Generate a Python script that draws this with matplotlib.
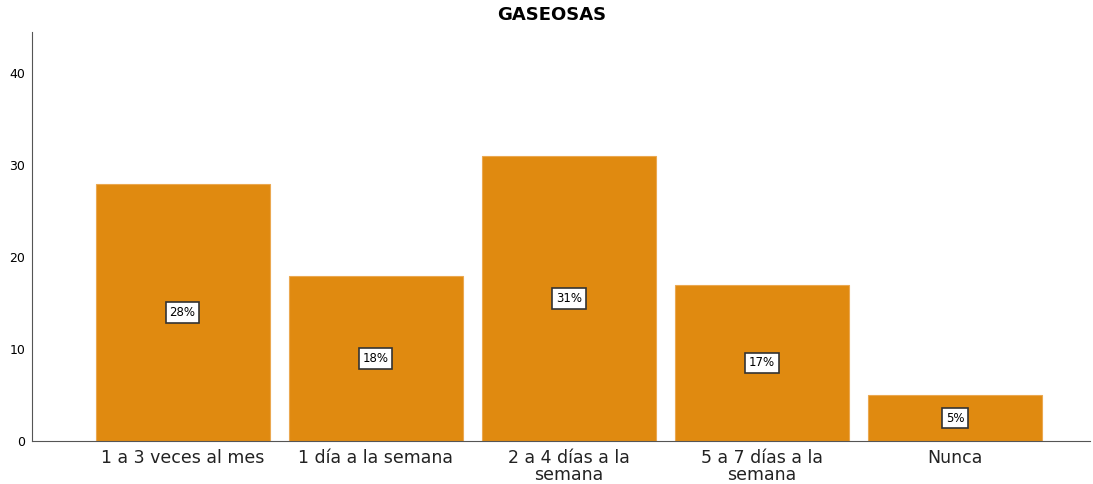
import matplotlib
matplotlib.use("Agg")
import matplotlib.pyplot as plt

categorias = ["1 a 3 veces al mes", "1 día a la semana", "2 a 4 días a la\nsemana",
              "5 a 7 días a la\nsemana", "Nunca"]
valores = [28, 18, 31, 17, 5]
etiquetas = ["28%", "18%", "31%", "17%", "5%"]
yticks = [0, 10, 20, 30, 40]

plt.rcParams['font.family'] = ['DejaVu Sans']

fig = plt.figure(figsize=(10.93, 4.84), dpi=100)
ax = fig.add_axes([0.0293, 0.0888, 0.968, 0.845])

x = list(range(len(categorias)))
ax.bar(x, valores, width=0.9, color="#E08A10", edgecolor="#EBA850", linewidth=0.8)

# etiquetas en el centro de cada barra
for i, v in enumerate(valores):
    ax.text(i, v / 2, etiquetas[i], ha="center", va="center", fontsize=8.5,
            bbox=dict(boxstyle="square,pad=0.32", fc="white", ec="#333333", lw=1.2))

ax.set_xlim(-0.78, 4.70)
ax.set_ylim(0, 44.5)
ax.set_xticks(x)
ax.set_xticklabels(categorias, fontsize=12.5, color="#222222", linespacing=0.88)
ax.set_yticks(yticks)
ax.set_yticklabels([str(t) for t in yticks], fontsize=9)
ax.tick_params(axis="both", length=0)
ax.tick_params(axis="y", pad=5)
ax.tick_params(axis="x", pad=6)

for s in ["top", "right"]:
    ax.spines[s].set_visible(False)
ax.spines["left"].set_color("#555555")
ax.spines["bottom"].set_color("#555555")

fig.text(0.505, 0.970, "GASEOSAS", ha="center", va="center", fontsize=13, fontweight="bold")

fig.savefig("out.png", dpi=100)
